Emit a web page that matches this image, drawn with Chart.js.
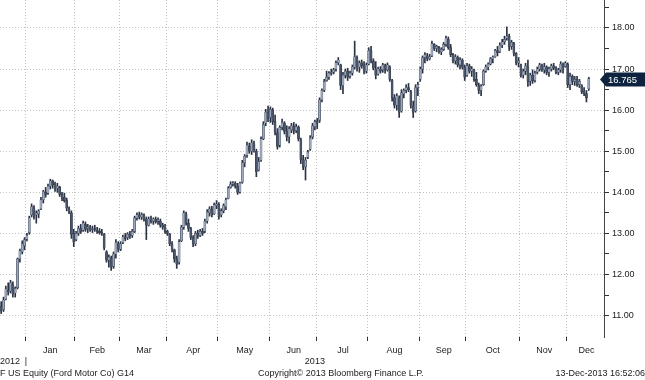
<!DOCTYPE html>
<html>
<head>
<meta charset="utf-8">
<script src="https://cdn.jsdelivr.net/npm/chart.js@4.4.0/dist/chart.umd.min.js"></script>
<style>
html,body{margin:0;padding:0;background:#fff;}
#wrap{position:relative;width:645px;height:380px;overflow:hidden;background:#fff;}
#c{position:absolute;left:0;top:0;}
.t{position:absolute;font-family:"Liberation Sans",Arial,sans-serif;font-size:9px;color:#1a1a1a;white-space:nowrap;line-height:1;}
</style>
</head>
<body>
<div id="wrap">
<canvas id="c" width="645" height="380"></canvas>
<div class="t" style="left:0;top:369px">F US Equity (Ford Motor Co) G14</div>
<div class="t" style="left:258px;top:369px">Copyright© 2013 Bloomberg Finance L.P.</div>
<div class="t" style="right:0;top:369px">13-Dec-2013 16:52:06</div>
</div>
<script>
// ---- data ----
const months = ['Dec','Jan','Feb','Mar','Apr','May','Jun','Jul','Aug','Sep','Oct','Nov','Dec'];
const tradingDays = [11,21,19,20,22,22,20,22,22,20,23,20,10];
const years = ['2012','2013'];
const yTicks = [11,12,13,14,15,16,17,18];
const padDays = 6;

const opens = [
11.22,11.15,11.40,11.62,11.60,11.75,11.55,11.68,12.38,12.55,12.70,
12.86,13.02,13.45,13.62,13.45,13.48,13.60,13.82,14.00,13.98,14.15,14.28,14.18,14.10,14.12,13.95,13.88,13.80,13.60,13.50,13.00,
12.85,13.00,13.12,13.08,13.22,13.12,13.15,13.10,13.12,13.08,13.05,13.02,12.98,12.55,12.35,12.40,12.20,12.50,12.75,
12.62,12.78,12.92,12.90,12.98,12.95,13.05,13.38,13.45,13.40,13.45,13.35,13.20,13.35,13.30,13.35,13.30,13.30,13.20,13.15,
13.05,12.98,12.75,12.60,12.38,12.30,12.82,13.15,13.48,13.25,13.12,12.90,12.75,13.00,12.95,13.05,13.05,13.30,13.50,13.58,13.48,13.68,
13.70,13.45,13.55,13.65,13.85,14.12,14.20,14.22,14.15,14.00,14.25,14.72,14.90,15.12,15.00,15.18,15.00,14.55,14.78,15.30,15.68,15.95,
15.82,16.00,15.72,15.45,15.15,15.58,15.68,15.48,15.35,15.52,15.60,15.50,15.58,15.28,14.80,14.62,14.85,15.05,15.35,15.60,
15.72,15.75,16.25,16.48,16.72,16.80,16.90,16.92,17.00,17.15,17.10,16.60,16.85,16.95,16.82,16.90,17.05,17.28,17.05,17.15,17.10,16.95,
17.12,17.45,17.20,17.00,16.88,17.00,16.98,17.08,16.98,17.05,16.72,16.30,16.12,16.30,15.98,16.40,16.48,16.55,16.45,16.10,15.98,16.55,
16.75,17.00,17.28,17.32,17.25,17.32,17.60,17.50,17.52,17.42,17.48,17.60,17.72,17.52,17.35,17.20,17.28,17.10,17.22,17.05,
16.85,17.08,16.95,16.98,16.75,16.60,16.48,16.62,16.95,17.05,17.12,17.25,17.30,17.45,17.42,17.58,17.66,17.75,17.80,17.55,17.62,17.38,17.15,
17.10,16.85,16.95,17.05,16.70,16.85,16.72,16.92,17.00,17.08,16.98,17.05,16.92,17.00,17.08,17.02,16.92,16.98,17.10,17.06,
17.12,16.62,16.82,16.70,16.75,16.62,16.60,16.45,16.40,16.52
];
const highs = [
11.34,11.45,11.72,11.80,11.86,11.82,11.70,12.40,12.62,12.82,12.90,
13.00,13.42,13.72,13.68,13.55,13.58,13.88,14.05,14.12,14.20,14.32,14.30,14.25,14.22,14.15,14.00,13.98,13.86,13.65,13.55,13.10,
13.05,13.18,13.22,13.30,13.28,13.22,13.20,13.18,13.20,13.15,13.12,13.10,13.00,12.58,12.48,12.45,12.55,12.85,12.80,
12.80,12.96,13.00,13.02,13.05,13.10,13.42,13.50,13.52,13.50,13.48,13.40,13.40,13.42,13.38,13.40,13.38,13.35,13.25,13.22,
13.08,13.00,12.80,12.62,12.45,12.85,13.20,13.55,13.52,13.35,13.15,12.95,13.05,13.08,13.10,13.12,13.35,13.58,13.65,13.66,13.74,13.80,
13.75,13.60,13.72,13.86,14.14,14.26,14.26,14.26,14.22,14.25,14.78,14.92,15.22,15.20,15.28,15.25,15.05,14.85,15.35,15.72,16.02,16.10,
16.08,16.05,15.88,15.55,15.62,15.78,15.72,15.62,15.60,15.68,15.70,15.66,15.62,15.32,14.90,14.85,15.02,15.38,15.68,15.76,
15.80,16.30,16.52,16.75,16.95,16.94,17.00,17.02,17.20,17.28,17.12,16.92,17.00,17.02,16.95,17.10,17.68,17.32,17.20,17.22,17.18,17.15,
17.52,17.55,17.25,17.18,17.05,17.06,17.14,17.12,17.15,17.08,16.75,16.38,16.40,16.35,16.50,16.52,16.62,16.65,16.48,16.22,16.62,16.68,
17.05,17.32,17.40,17.38,17.36,17.68,17.62,17.58,17.55,17.52,17.65,17.80,17.78,17.60,17.38,17.35,17.32,17.28,17.25,17.10,
17.14,17.12,17.06,17.00,16.92,16.66,16.62,16.98,17.10,17.15,17.28,17.32,17.48,17.55,17.64,17.72,17.80,18.03,17.85,17.70,17.65,17.40,17.28,
17.12,17.00,17.14,17.22,16.90,16.98,16.95,17.05,17.14,17.12,17.14,17.08,17.05,17.12,17.14,17.06,17.02,17.18,17.15,17.18,
17.15,16.90,16.86,16.82,16.82,16.75,16.62,16.55,16.48,16.80
];
const lows = [
11.05,11.10,11.38,11.50,11.55,11.45,11.45,11.65,12.30,12.50,12.60,
12.82,12.98,13.40,13.35,13.25,13.38,13.58,13.74,13.88,13.95,14.08,14.10,14.02,14.00,13.90,13.80,13.76,13.55,13.48,12.88,12.68,
12.82,12.95,13.00,13.05,13.05,13.02,13.05,13.02,13.05,13.00,12.98,12.95,12.60,12.30,12.18,12.10,12.15,12.40,12.55,
12.58,12.75,12.82,12.85,12.88,12.90,13.02,13.32,13.35,13.34,13.30,12.85,13.18,13.25,13.22,13.25,13.22,13.15,13.10,13.00,
12.95,12.70,12.55,12.30,12.15,12.25,12.80,13.10,13.20,13.05,12.85,12.68,12.70,12.88,12.92,12.95,13.02,13.25,13.42,13.40,13.46,13.60,
13.35,13.40,13.50,13.58,13.84,14.10,14.15,14.10,13.95,13.98,14.22,14.62,14.85,14.95,14.92,14.98,14.38,14.52,14.75,15.28,15.62,15.72,
15.70,15.65,15.40,15.05,15.10,15.52,15.42,15.25,15.20,15.45,15.42,15.45,15.25,14.70,14.55,14.30,14.82,15.02,15.30,15.52,
15.55,15.70,16.20,16.45,16.70,16.75,16.85,16.88,16.95,17.10,16.50,16.40,16.78,16.72,16.78,16.85,17.00,16.95,16.92,17.02,16.88,16.90,
17.10,17.15,16.98,16.76,16.85,16.90,16.92,16.90,16.95,16.70,16.22,16.05,16.00,15.82,15.95,16.30,16.42,16.45,16.05,15.82,15.95,16.35,
16.70,16.90,17.15,17.20,17.22,17.30,17.45,17.42,17.38,17.35,17.45,17.55,17.48,17.30,17.15,17.12,17.05,17.00,17.00,16.72,
16.82,16.90,16.82,16.70,16.58,16.40,16.35,16.60,16.92,16.98,17.10,17.15,17.28,17.32,17.40,17.52,17.60,17.70,17.45,17.48,17.32,17.10,17.05,
16.80,16.78,16.86,16.58,16.60,16.65,16.68,16.88,16.95,16.94,16.90,16.86,16.82,16.95,16.98,16.88,16.86,16.92,16.90,17.04,
16.55,16.50,16.62,16.60,16.58,16.55,16.40,16.35,16.20,16.48
];
const closes = [
11.12,11.38,11.65,11.58,11.80,11.52,11.66,12.38,12.58,12.75,12.85,
12.95,13.38,13.65,13.42,13.50,13.55,13.82,14.02,13.95,14.15,14.28,14.18,14.10,14.15,13.95,13.85,13.80,13.62,13.52,12.98,12.80,
13.00,13.12,13.05,13.25,13.10,13.15,13.08,13.12,13.10,13.05,13.02,13.00,12.65,12.35,12.42,12.18,12.50,12.78,12.62,
12.75,12.92,12.88,12.98,12.95,13.05,13.38,13.45,13.40,13.46,13.35,13.20,13.35,13.30,13.35,13.28,13.32,13.20,13.15,13.05,
13.00,12.75,12.62,12.38,12.25,12.80,13.15,13.50,13.25,13.12,12.90,12.75,13.00,12.95,13.05,13.00,13.30,13.52,13.60,13.45,13.70,13.72,
13.42,13.55,13.68,13.82,14.10,14.20,14.22,14.15,14.00,14.22,14.72,14.88,15.15,15.00,15.20,15.05,14.50,14.75,15.30,15.65,15.95,15.80,
16.02,15.72,15.45,15.12,15.58,15.70,15.48,15.35,15.55,15.62,15.50,15.60,15.30,14.80,14.62,14.78,14.98,15.32,15.62,15.72,
15.68,16.25,16.48,16.70,16.80,16.90,16.92,16.98,17.15,17.22,16.60,16.85,16.95,16.80,16.90,17.05,17.30,17.05,17.15,17.08,16.95,17.10,
17.45,17.20,17.02,16.85,17.00,16.95,17.10,16.98,17.10,16.75,16.30,16.12,16.35,15.95,16.42,16.48,16.55,16.50,16.12,15.95,16.55,16.62,
17.00,17.28,17.35,17.25,17.30,17.62,17.50,17.55,17.42,17.48,17.60,17.75,17.52,17.35,17.20,17.30,17.10,17.22,17.05,16.80,
17.08,16.95,17.00,16.75,16.62,16.48,16.58,16.95,17.05,17.12,17.25,17.30,17.45,17.40,17.58,17.66,17.72,17.80,17.55,17.65,17.38,17.15,17.20,
16.85,16.95,17.08,16.70,16.85,16.72,16.90,17.00,17.10,16.98,17.06,16.92,17.00,17.08,17.02,16.92,16.98,17.12,17.05,17.15,
16.62,16.82,16.70,16.75,16.62,16.70,16.45,16.40,16.30,16.765
];

// ---- derived structures ----
const categories = [];
const monthStart = [];
tradingDays.forEach((n, m) => {
  monthStart.push(categories.length);
  for (let d = 1; d <= n; d++) categories.push(months[m] + ' ' + d + (m === 0 ? ' ' + years[0] : ' ' + years[1]));
});
for (let k = 0; k < padDays; k++) categories.push('');
const total = categories.length;
const startSet = new Set(monthStart.slice(1));
const labelAt = {};
monthStart.forEach((s, m) => {
  if (m === 0) return;
  const e = (m === monthStart.length - 1) ? total : monthStart[m + 1];
  labelAt[Math.floor((s + e) / 2)] = months[m];
});

const UP_FILL = '#9aa7bc', DOWN_FILL = '#4a5569', EDGE = '#2a3243';
const wickData = lows.map((l, i) => [l, highs[i]]);
const bodyData = opens.map((o, i) => [o, closes[i]]);
const bodyFill = opens.map((o, i) => closes[i] >= o ? UP_FILL : DOWN_FILL);

const FONT = '"Liberation Sans", Arial, sans-serif';

const overlay = {
  id: 'overlay',
  afterDraw(chart) {
    const {ctx, scales: {x, y}, chartArea} = chart;
    const w = x.getPixelForValue(1) - x.getPixelForValue(0);
    const janEdge = x.getPixelForValue(monthStart[1]) - w / 2;
    ctx.save();
    ctx.font = '9px ' + FONT;
    ctx.fillStyle = '#1a1a1a';
    ctx.textBaseline = 'middle';
    ctx.textAlign = 'left';
    ctx.fillText(years[0], 0, 362);
    ctx.fillText('|', janEdge - 1, 362);
    ctx.textAlign = 'center';
    ctx.fillText(years[1], (janEdge + chartArea.right) / 2, 362);
    // last price tag
    const last = closes[closes.length - 1];
    const py = Math.round(y.getPixelForValue(last)) + 0.5;
    const left = chartArea.right - 4;
    ctx.beginPath();
    ctx.moveTo(left, py);
    ctx.lineTo(left + 6, py - 7);
    ctx.lineTo(645, py - 7);
    ctx.lineTo(645, py + 7);
    ctx.lineTo(left + 6, py + 7);
    ctx.closePath();
    ctx.fillStyle = '#0e2340';
    ctx.fill();
    ctx.fillStyle = '#ffffff';
    ctx.font = '9.5px ' + FONT;
    ctx.textAlign = 'left';
    ctx.fillText(last.toFixed(3), left + 8, py + 0.5);
    ctx.restore();
  }
};

new Chart(document.getElementById('c'), {
  type: 'bar',
  data: {
    labels: categories,
    datasets: [
      {
        label: 'range',
        data: wickData,
        backgroundColor: EDGE,
        barThickness: 1,
        grouped: false,
        order: 2
      },
      {
        label: 'body',
        data: bodyData,
        backgroundColor: bodyFill,
        borderColor: EDGE,
        borderWidth: 0.4,
        borderSkipped: false,
        barThickness: 2.1,
        grouped: false,
        order: 1
      }
    ]
  },
  options: {
    responsive: false,
    animation: false,
    layout: {padding: 0},
    plugins: {legend: {display: false}, tooltip: {enabled: false}},
    scales: {
      x: {
        type: 'category',
        offset: true,
        afterFit(scale) {
          scale.height = 43;
          scale.paddingLeft = 0; scale.paddingRight = 0;
        },
        border: {display: false, dash: [1, 2]},
        grid: {
          offset: true,
          drawOnChartArea: true,
          lineWidth: 1,
          tickLength: 4,
          color: (c) => startSet.has(c.index) ? '#c2c2c2' : 'rgba(0,0,0,0)',
          tickColor: (c) => startSet.has(c.index) ? '#333333' : 'rgba(0,0,0,0)',
          tickBorderDash: []
        },
        ticks: {
          autoSkip: false,
          maxRotation: 0,
          minRotation: 0,
          padding: 4,
          color: '#1a1a1a',
          font: {family: FONT, size: 9},
          callback: (v, i) => labelAt[i] || ''
        }
      },
      y: {
        type: 'linear',
        position: 'right',
        min: 10.48,
        max: 18.68,
        afterFit(scale) {
          scale.width = 41;
          scale.paddingTop = 0; scale.paddingBottom = 0;
        },
        afterBuildTicks(scale) {
          const t = [];
          yTicks.forEach(v => { t.push({value: v}); t.push({value: v + 0.5}); });
          scale.ticks = t;
        },
        border: {display: true, color: '#444444', width: 1, dash: [1, 2]},
        grid: {
          drawOnChartArea: true,
          lineWidth: 1,
          tickLength: 5,
          color: (c) => (c.tick && Number.isInteger(c.tick.value)) ? '#c4c4c4' : 'rgba(0,0,0,0)',
          tickColor: '#333333',
          tickBorderDash: []
        },
        ticks: {
          padding: 3,
          color: '#1a1a1a',
          font: {family: FONT, size: 9},
          callback: (v) => Number.isInteger(v) ? v.toFixed(2) : ''
        }
      }
    }
  },
  plugins: [overlay]
});
</script>
</body>
</html>
